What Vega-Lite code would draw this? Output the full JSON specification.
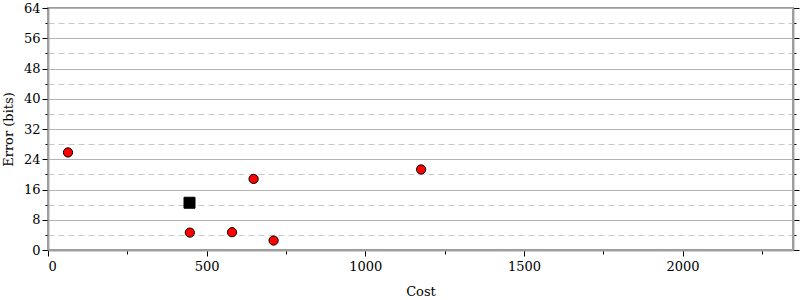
{
  "$schema": "https://vega.github.io/schema/vega-lite/v6.json",
  "width": 745,
  "height": 242,
  "autosize": "none",
  "padding": {"left": 48, "top": 8, "right": 7, "bottom": 50},
  "config": {
    "font": "DejaVu Serif",
    "view": {"stroke": "#9a9a9a", "strokeWidth": 2},
    "axis": {"labelFont": "DejaVu Serif", "titleFont": "DejaVu Serif", "labelFontSize": 13, "titleFontSize": 13, "labelColor": "#000", "titleColor": "#000", "titleFontWeight": "normal", "domainColor": "#a0a0a0", "domainWidth": 2, "tickColor": "#000"}
  },
  "data": {"values": [
    {"cost": 63, "error": 25.8, "kind": "circle"},
    {"cost": 447, "error": 4.6, "kind": "circle"},
    {"cost": 580, "error": 4.7, "kind": "circle"},
    {"cost": 648, "error": 18.8, "kind": "circle"},
    {"cost": 711, "error": 2.5, "kind": "circle"},
    {"cost": 1176, "error": 21.3, "kind": "circle"},
    {"cost": 446, "error": 12.5, "kind": "square"}
  ]},
  "layer": [
    {
      "mark": {"type": "point", "filled": true, "stroke": "#000", "strokeWidth": 1, "opacity": 1},
      "encoding": {
        "x": {"field": "cost", "type": "quantitative", "scale": {"domain": [0, 2348], "nice": false, "zero": false},
          "axis": {"title": "Cost", "values": [0, 250, 500, 750, 1000, 1250, 1500, 1750, 2000, 2250], "grid": false,
            "labelExpr": "datum.value % 500 === 0 ? datum.label : ''", "format": "d",
            "tickSize": {"condition": {"test": "datum.value % 500 === 0", "value": 6}, "value": 4},
            "labelPadding": 4, "titlePadding": 12}},
        "y": {"field": "error", "type": "quantitative", "scale": {"domain": [0, 64], "nice": false},
          "axis": {"title": "Error (bits)", "values": [0, 4, 8, 12, 16, 20, 24, 28, 32, 36, 40, 44, 48, 52, 56, 60, 64],
            "labelExpr": "datum.value % 8 === 0 ? datum.label : ''",
            "grid": true,
            "gridDash": {"condition": {"test": "datum.value % 8 === 4", "value": [6, 4]}, "value": []},
            "gridColor": {"condition": {"test": "datum.value % 8 === 4", "value": "#c8c8c8"}, "value": "#b4b4b4"},
            "tickSize": {"condition": {"test": "datum.value % 8 === 0", "value": 6}, "value": 3},
            "labelPadding": 2, "titlePadding": 8}},
        "shape": {"field": "kind", "type": "nominal", "scale": {"domain": ["circle", "square"], "range": ["circle", "square"]}, "legend": null},
        "fill": {"field": "kind", "type": "nominal", "scale": {"domain": ["circle", "square"], "range": ["#ff0000", "#000000"]}, "legend": null},
        "size": {"field": "kind", "type": "nominal", "scale": {"domain": ["circle", "square"], "range": [85, 121]}, "legend": null}
      }
    },
    {
      "mark": {"type": "point", "opacity": 0},
      "encoding": {
        "x": {"field": "cost", "type": "quantitative", "scale": {"domain": [0, 2348], "nice": false, "zero": false}},
        "y": {"field": "error", "type": "quantitative", "scale": {"domain": [0, 64], "nice": false},
          "axis": {"orient": "right", "title": null, "labels": false, "grid": false, "values": [0, 4, 8, 12, 16, 20, 24, 28, 32, 36, 40, 44, 48, 52, 56, 60, 64],
            "tickSize": {"condition": {"test": "datum.value % 8 === 0", "value": 6}, "value": 3}}}
      }
    }
  ],
  "resolve": {"axis": {"y": "independent"}}
}
